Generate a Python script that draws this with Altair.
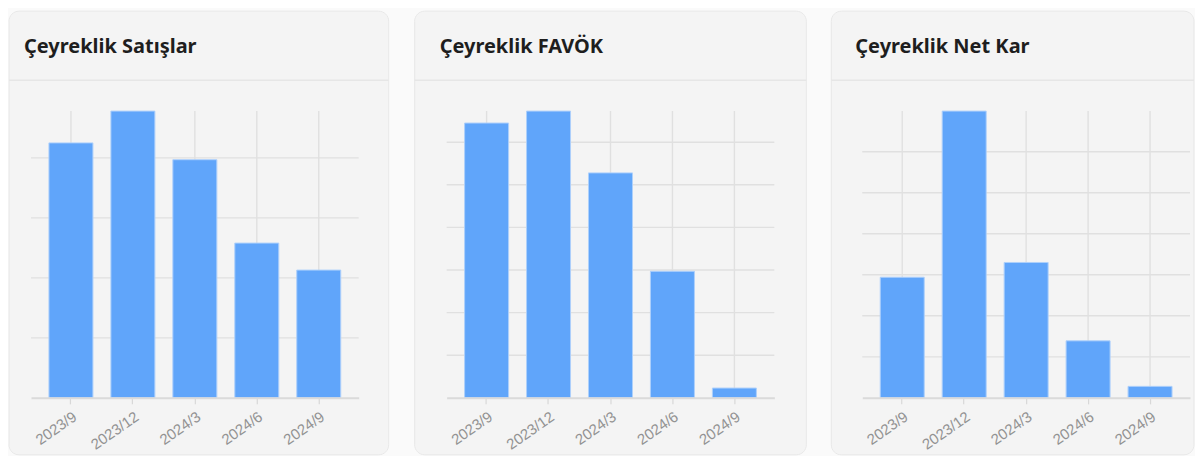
import altair as alt
import pandas as pd

quarters = ["2023/9", "2023/12", "2024/3", "2024/6", "2024/9"]

titles = ["Çeyreklik Satışlar", "Çeyreklik FAVÖK", "Çeyreklik Net Kar"]
satislar = [42.5, 47.8, 39.7, 25.8, 21.3]
favok = [6.45, 6.73, 5.28, 2.97, 0.23]
net_kar = [2.94, 6.99, 3.30, 1.39, 0.28]

satislar_ticks = [10, 20, 30, 40]
favok_ticks = [1, 2, 3, 4, 5, 6]
net_kar_ticks = [1, 2, 3, 4, 5, 6]

W, H = 328, 287
CARD_BG = "#f4f4f4"
PAGE_BG = "#fafafa"
GRID = "#e0e0e0"
CARD_BOTTOM = 344


def panel(title, values, ticks, card_x1, card_x2):
    df = pd.DataFrame({"quarter": quarters, "value": values})
    tdf = pd.DataFrame({"v": ticks})
    one = pd.DataFrame({"k": [0]})

    yscale = alt.Scale(domain=[0, max(values)], nice=False, zero=True)
    x_enc = alt.X(
        "quarter:N",
        sort=quarters,
        scale=alt.Scale(paddingInner=0.29, paddingOuter=0.29),
        axis=alt.Axis(
            title=None,
            grid=False,
            labelAngle=325,
            labelColor="#929292",
            labelFont="Liberation Sans",
            labelFontSize=15,
            labelPadding=5,
            domainColor="#dadada",
            domainWidth=2,
            tickColor="#d8d8d8",
            tickSize=6,
            tickWidth=1.2,
            zindex=1,
        ),
    )

    card = alt.Chart(one).mark_rect(
        fill=CARD_BG, stroke="#e8e8e8", strokeWidth=1, cornerRadius=10
    ).encode(
        x=alt.value(card_x1), x2=alt.value(card_x2),
        y=alt.value(-100), y2=alt.value(CARD_BOTTOM),
    )
    sep = alt.Chart(one).mark_rule(color="#e6e6e6", strokeWidth=1.5).encode(
        x=alt.value(card_x1), x2=alt.value(card_x2), y=alt.value(-31)
    )
    ttl = alt.Chart(one).mark_text(
        text=title, align="left", baseline="alphabetic",
        font="Noto Sans", fontSize=20, fontWeight="bold", color="#1e1e1e",
    ).encode(x=alt.value(-7), y=alt.value(-58))

    grid_y = alt.Chart(tdf).mark_rule(color=GRID, strokeWidth=1.4).encode(
        y=alt.Y("v:Q", scale=yscale, axis=None)
    )
    grid_x = alt.Chart(df).mark_rule(color=GRID, strokeWidth=1.4).encode(x=x_enc)
    bars = alt.Chart(df).mark_bar(
        color="#60a5fa", stroke="#aed0fb", strokeWidth=1
    ).encode(
        x=x_enc,
        y=alt.Y("value:Q", scale=yscale, axis=None),
    )
    return alt.layer(card, sep, ttl, grid_y, grid_x, bars).properties(width=W, height=H)


p1 = panel(titles[0], satislar, satislar_ticks, -22, 358)
p2 = panel(titles[1], favok, favok_ticks, -32, 360)
p3 = panel(titles[2], net_kar, net_kar_ticks, -31, 332)

chart = alt.hconcat(p1, p2, p3, spacing=88, bounds="flush").properties(
    background=PAGE_BG,
    padding={"left": 0, "top": 2, "right": 0, "bottom": 0},
).configure_view(stroke=None)

chart.save("out.html", embed_options={"renderer": "svg", "actions": False})
